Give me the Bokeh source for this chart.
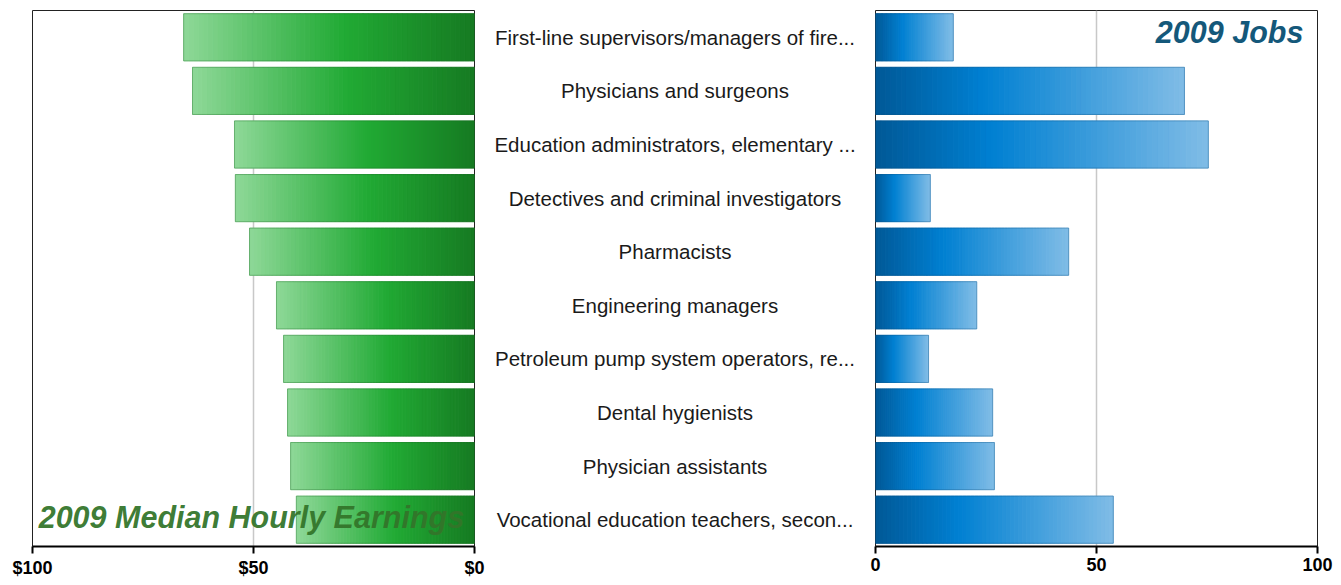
import numpy as np
from bokeh.plotting import figure
from bokeh.layouts import row
from bokeh.models import Range1d, FixedTicker, ColumnDataSource
from bokeh.core.properties import value
from bokeh.embed import file_html
from bokeh.resources import INLINE

categories = [
    "First-line supervisors/managers of fire...",
    "Physicians and surgeons",
    "Education administrators, elementary ...",
    "Detectives and criminal investigators",
    "Pharmacists",
    "Engineering managers",
    "Petroleum pump system operators, re...",
    "Dental hygienists",
    "Physician assistants",
    "Vocational education teachers, secon...",
]
earnings = [65.8, 63.8, 54.3, 54.1, 50.9, 44.8, 43.2, 42.3, 41.6, 40.3]
jobs = [17.6, 69.9, 75.3, 12.4, 43.7, 22.9, 12.0, 26.5, 26.9, 53.8]
ticks = [0, 50, 100]

n = len(categories)
ys = list(range(n - 1, -1, -1))
yr = Range1d(-0.5, n - 0.5)
FONT = "Liberation Sans"
BAR_H = 0.88
NSEG = 60
H = 582
BT, BB = 10, 36


def interp_color(stops, t):
    for (t0, c0), (t1, c1) in zip(stops[:-1], stops[1:]):
        if t <= t1:
            f = (t - t0) / (t1 - t0) if t1 > t0 else 0
            c = [int(round(a + (b - a) * f)) for a, b in zip(c0, c1)]
            return "#%02x%02x%02x" % tuple(c)
    return "#%02x%02x%02x" % tuple(stops[-1][1])


# gradient stops: t=0 at zero end, t=1 at bar end
green_stops = [(0.0, (22, 122, 34)), (0.45, (33, 170, 52)), (1.0, (142, 216, 152))]
blue_stops = [(0.0, (0, 88, 150)), (0.35, (0, 128, 210)), (1.0, (128, 188, 230))]


def gradient_source(vals, stops):
    l, r, y, c = [], [], [], []
    for v, yy in zip(vals, ys):
        for i in range(NSEG):
            l.append(v * i / NSEG)
            r.append(v * (i + 1) / NSEG)
            y.append(yy)
            c.append(interp_color(stops, (i + 0.5) / NSEG))
    return ColumnDataSource(dict(left=l, right=r, y=y, color=c))


def panel(xr, vals, stops, edge, labels, bl, br, w):
    p = figure(width=w, height=H, x_range=xr, y_range=yr,
               output_backend="svg", toolbar_location=None,
               min_border_left=bl, min_border_right=br,
               min_border_top=BT, min_border_bottom=BB)
    p.background_fill_color = "white"
    p.border_fill_color = "white"
    p.outline_line_color = "#222222"
    p.outline_line_width = 1
    p.yaxis.visible = False
    p.ygrid.visible = False
    p.xgrid.ticker = FixedTicker(ticks=[50])
    p.xgrid.grid_line_color = "#c8c8c8"
    p.xgrid.grid_line_width = 1.5
    ax = p.xaxis[0]
    ax.ticker = FixedTicker(ticks=ticks)
    ax.major_label_overrides = labels
    ax.major_label_text_font = FONT
    ax.major_label_text_font_style = "bold"
    ax.major_label_text_font_size = "18px"
    ax.major_label_text_color = "black"
    ax.axis_line_color = "black"
    ax.axis_line_width = 2
    ax.major_tick_line_color = "black"
    ax.major_tick_line_width = 2
    ax.major_tick_out = 7
    ax.major_tick_in = 0
    ax.minor_tick_line_color = None
    ax.major_label_standoff = 4
    src = gradient_source(vals, stops)
    p.hbar(y="y", left="left", right="right", height=BAR_H, source=src,
           fill_color="color", line_color="color", line_width=1)
    p.hbar(y=ys, left=0, right=vals, height=BAR_H, fill_alpha=0,
           line_color=edge, line_alpha=0.35, line_width=1)
    return p


left = panel(Range1d(100, 0), earnings, green_stops, "#1f6b28",
             {0: "$0", 50: "$50", 100: "$100"}, 32, 20, 494)
left.text(x=[98.6], y=[ys[-1] + 0.05], text=["2009 Median Hourly Earnings"],
          text_font=value(FONT), text_font_style="bold italic",
          text_font_size="30.5px", text_color="#33752a", text_alpha=0.95,
          text_align="left", text_baseline="middle")

right = panel(Range1d(0, 100), jobs, blue_stops, "#0b4f80",
              {0: "0", 50: "50", 100: "100"}, 20, 16, 478)
right.text(x=[96.8], y=[ys[0] + 0.1], text=["2009 Jobs"],
           text_font=value(FONT), text_font_style="bold italic",
           text_font_size="30.5px", text_color="#14587a",
           text_align="right", text_baseline="middle")

mid = figure(width=361, height=H, x_range=Range1d(0, 1), y_range=yr,
             output_backend="svg", toolbar_location=None,
             min_border_left=0, min_border_right=0,
             min_border_top=BT, min_border_bottom=BB)
mid.outline_line_color = None
mid.axis.visible = False
mid.grid.visible = False
mid.text(x=[0.5] * n, y=ys, text=categories, text_font=value(FONT),
         text_font_size="20.5px", text_color="#1a1a1a",
         text_align="center", text_baseline="middle")

layout = row(left, mid, right)
open("out.html", "w").write(file_html(layout, INLINE))
